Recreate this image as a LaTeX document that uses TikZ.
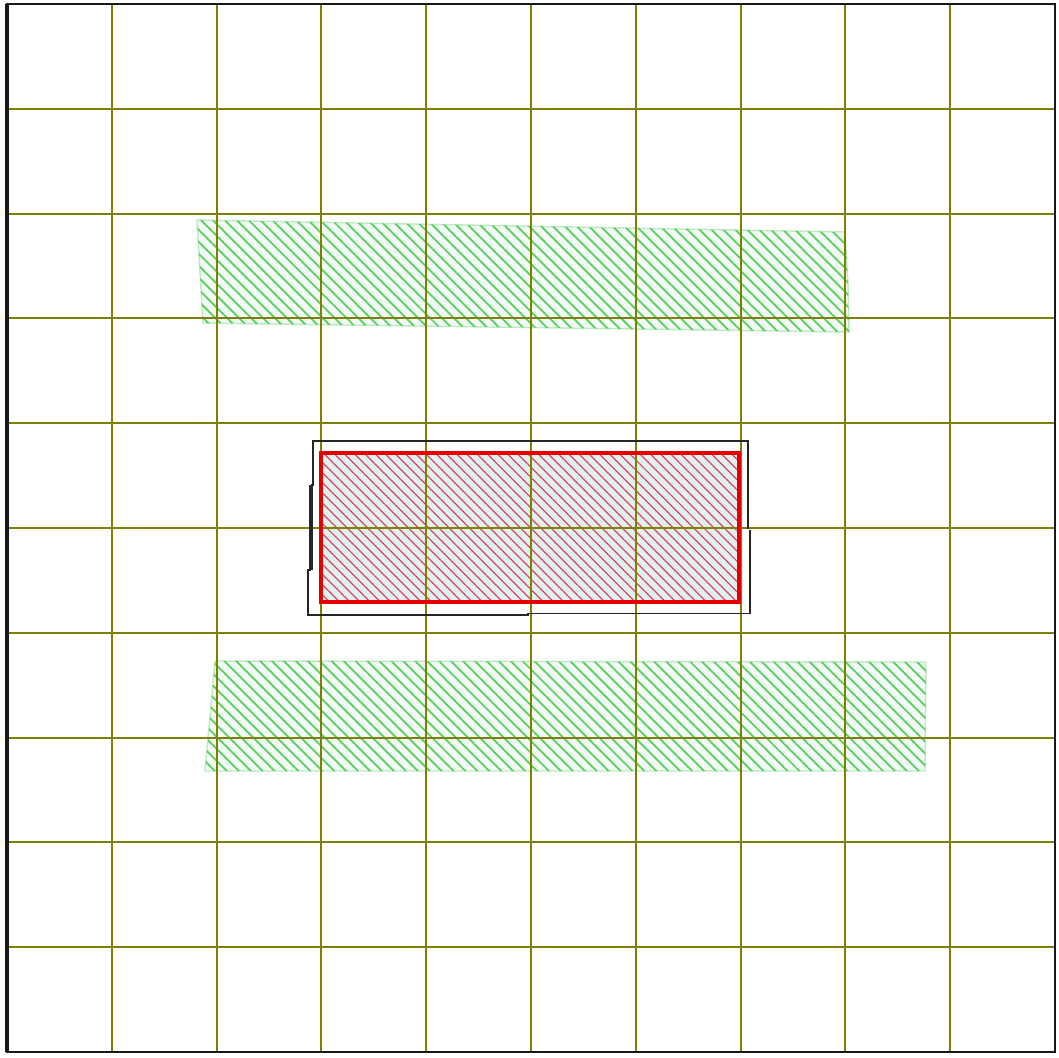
\documentclass[tikz,border=0pt]{standalone}
\usetikzlibrary{patterns.meta}
\definecolor{gridolive}{RGB}{128,128,0}
\definecolor{hatchgreen}{RGB}{90,205,95}
\definecolor{hatchred}{RGB}{215,70,100}
\definecolor{bandfill}{RGB}{242,250,246}
\definecolor{blockfill}{RGB}{226,240,240}

\begin{document}
\begin{tikzpicture}[x=0.1mm,y=-0.1mm,
  gridline/.style={gridolive,line width=0.6pt},
  band/.style={draw=hatchgreen!40,line width=0.4pt,fill=bandfill,
    postaction={pattern={Lines[angle=-45,distance=2.4pt,line width=0.5pt]},pattern color=hatchgreen}},
  block/.style={fill=blockfill,
    postaction={pattern={Lines[angle=-45,distance=2.05pt,line width=0.35pt]},pattern color=hatchred}},
  blockedge/.style={red!90!black,line width=1.2pt},
  outline/.style={black!85,line width=0.45pt}]
  \useasboundingbox (0,0) rectangle (1059,1057);
  \fill[white] (0,0) rectangle (1059,1057);
  \path[band] (197,220) -- (845,232) -- (848,283) -- (849,332) -- (203,323) -- cycle;
  \path[band] (215,661) -- (926,662) -- (925,771) -- (205,771) -- cycle;
  \path[block] (321,453) rectangle (739,602);
  \foreach \i in {1,...,9} {
    \draw[gridline] (7+104.8*\i,4) -- (7+104.8*\i,1052);
    \draw[gridline] (7,4+104.8*\i) -- (1055,4+104.8*\i);
  }
  \draw[outline] (311,485) -- (313,485) -- (313,441) -- (748,441) -- (748,529);
  \draw[outline] (750,530) -- (750,613.5) -- (528,613.5) -- (528,615) -- (308,615) -- (308,570) -- (311,570);
  \draw[outline,line width=0.9pt] (311,485) -- (311,570);
  \draw[blockedge] (321,453) rectangle (739,602);
  \draw[black!90,line width=0.6pt] (7,4) rectangle (1055,1052);
  \draw[black!90,line width=0.9pt] (7,4) -- (7,1052);
\end{tikzpicture}
\end{document}
